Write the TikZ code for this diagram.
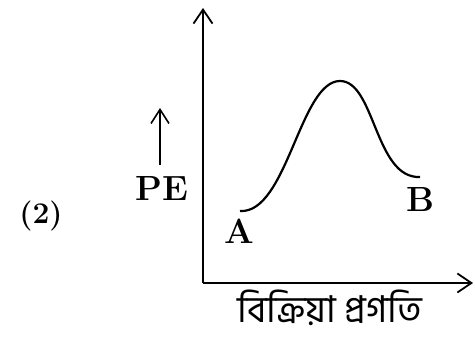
\documentclass[tikz,border=0pt]{standalone}
\usepackage{fontspec}
\newfontfamily\bnfont[Script=Bengali]{Hind Siliguri}
\usetikzlibrary{arrows.meta}
\begin{document}
\begin{tikzpicture}[x=1pt,y=1pt,
  axis/.style={line width=2.6pt,-{Straight Barb[length=14pt,width=19pt,line width=1.8pt]}},
  curve/.style={line width=2.2pt},
  lbl/.style={inner sep=0pt,font=\fontsize{35}{38}\selectfont\bfseries},
  pearrow/.style={line width=1.8pt,-{Straight Barb[length=14pt,width=18pt,line width=1.6pt]}}]
\useasboundingbox (0,0) rectangle (475,342);
\coordinate (O) at (203,59);
\coordinate (Ytop) at (203,334);
\coordinate (Xend) at (473,59);
\draw[axis] (O) -- (Ytop);
\draw[axis] (O) -- (Xend);
\coordinate (Ac) at (240,131);
\coordinate (Peak) at (340,261);
\coordinate (Bc) at (420,165);
\draw[curve] (Ac) .. controls (287,128) and (300,261) .. (Peak)
  .. controls (375,261) and (375,163) .. (Bc);
\node[lbl] (A) at (239,111) {A};
\node[lbl] (B) at (420,142) {B};
\node[lbl] (PE) at (162,153) {PE};
\coordinate (PEbot) at (160,177);
\coordinate (PEtop) at (160,234);
\draw[pearrow] (PEbot) -- (PEtop);
\node[inner sep=0pt,font=\fontsize{30}{32}\selectfont\bfseries] (two) at (41,126) {(2)};
\node[inner sep=0pt,font=\bnfont\fontsize{37}{40}\selectfont] (xl) at (330,34) {বিক্রিয়া প্রগতি};
\end{tikzpicture}
\end{document}
